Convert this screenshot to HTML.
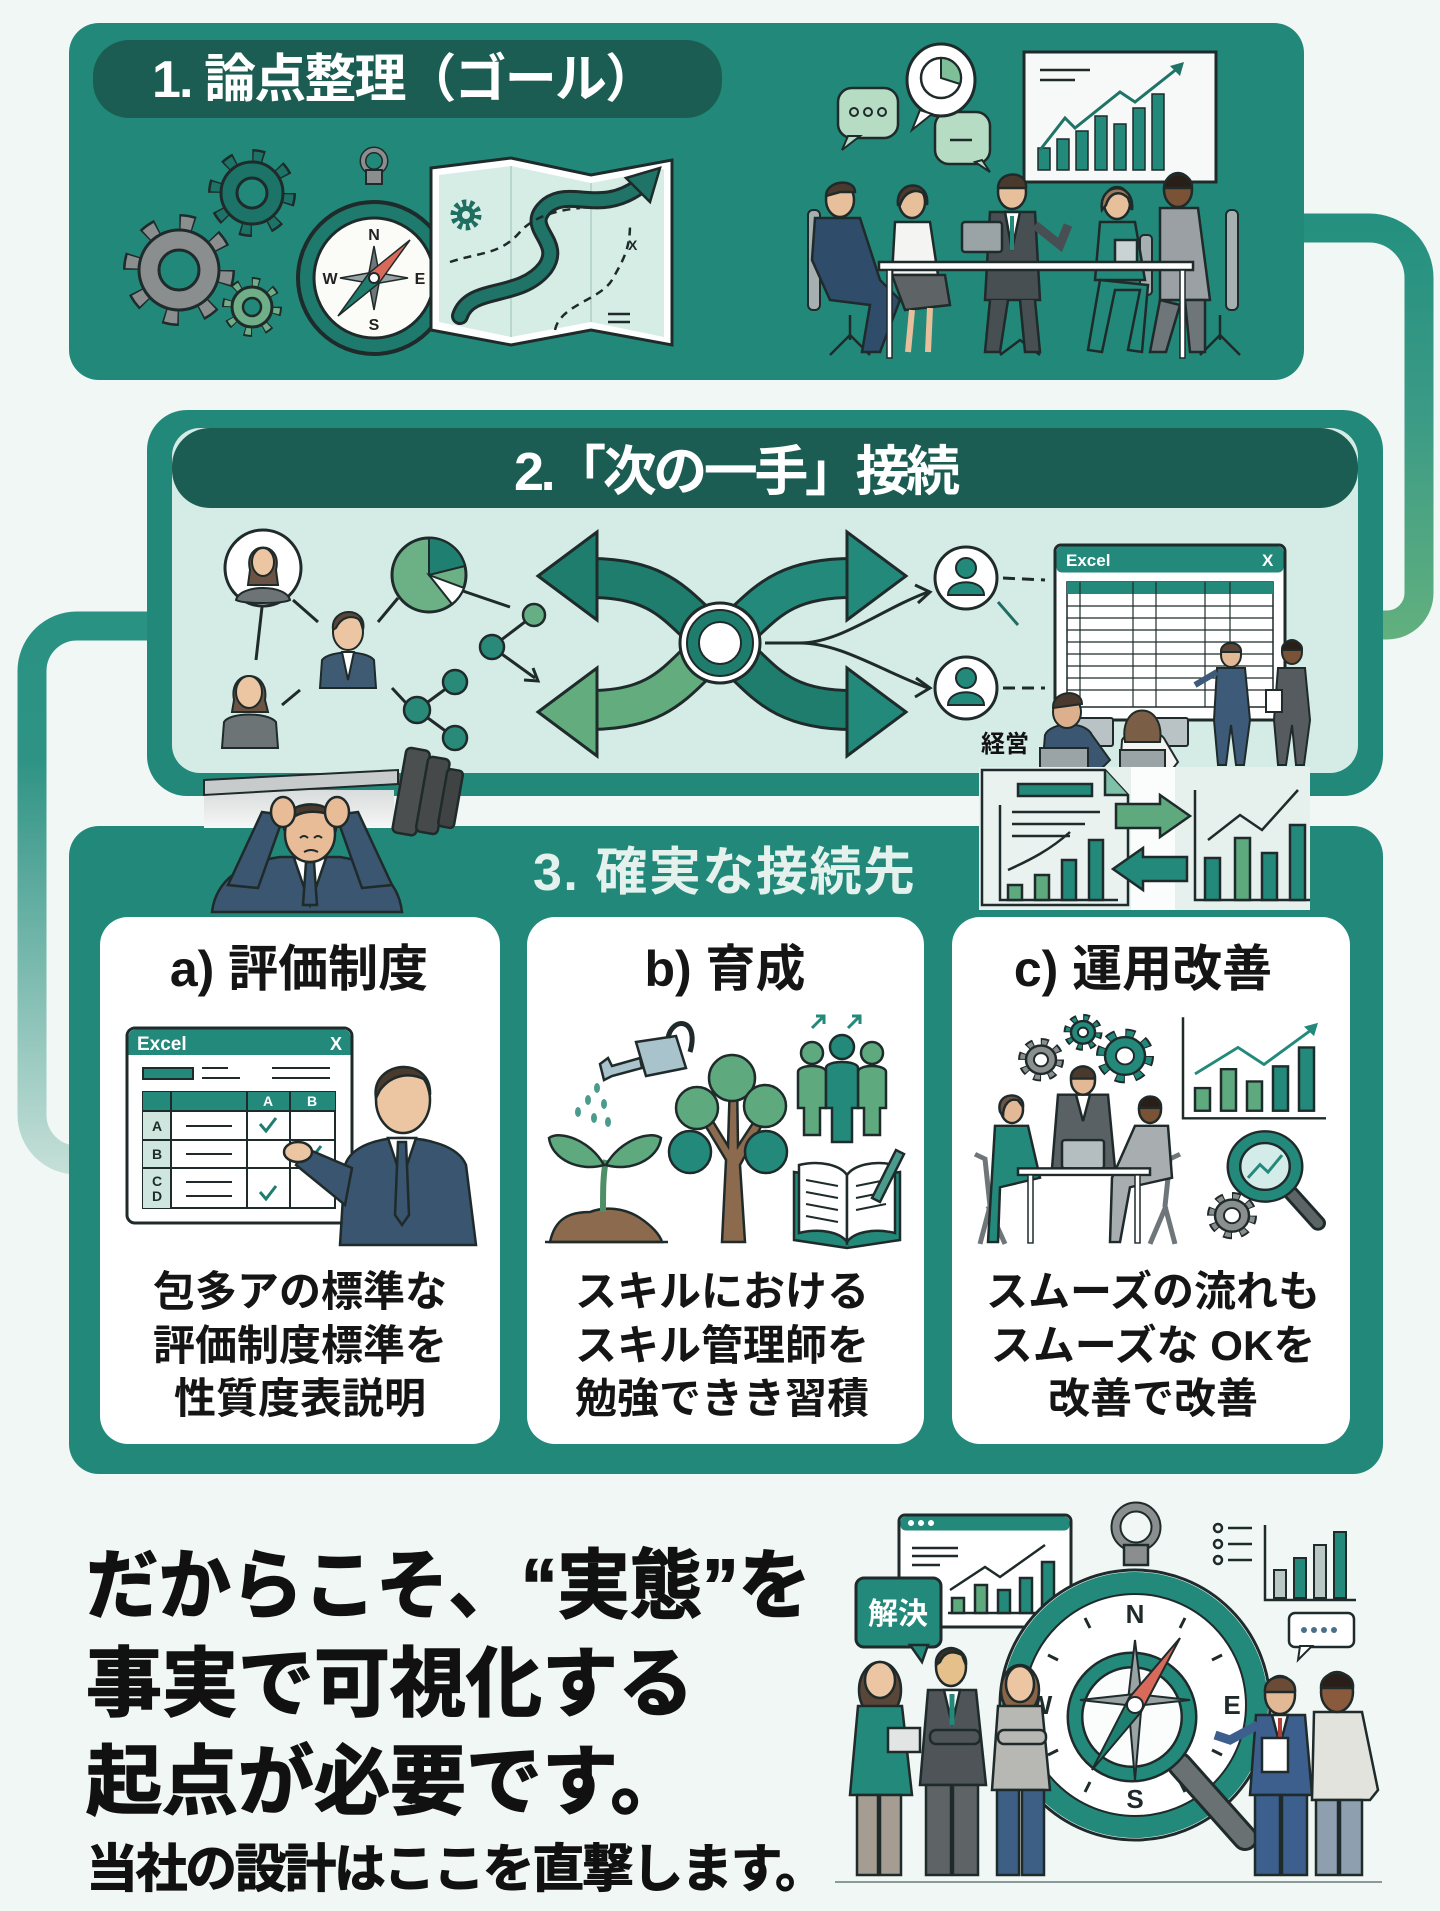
<!DOCTYPE html>
<html><head><meta charset="utf-8">
<style>
html,body{margin:0;padding:0;background:#f0f7f4;}
svg{display:block;}
text{font-family:"Liberation Sans","Noto Sans CJK JP",sans-serif;font-weight:700;}
</style></head><body>
<svg width="1440" height="1911" viewBox="0 0 1440 1911" xmlns="http://www.w3.org/2000/svg">
<defs>
<linearGradient id="gR" gradientUnits="userSpaceOnUse" x1="0" y1="220" x2="0" y2="640">
<stop offset="0" stop-color="#25907f"/><stop offset="0.45" stop-color="#3a9a86"/><stop offset="1" stop-color="#62b07e"/></linearGradient>
<linearGradient id="gL" gradientUnits="userSpaceOnUse" x1="0" y1="620" x2="0" y2="1175">
<stop offset="0" stop-color="#2a9283"/><stop offset="0.25" stop-color="#2e9384"/><stop offset="1" stop-color="#c6e0d9"/></linearGradient>
<linearGradient id="gW" x1="0" y1="0" x2="0" y2="1">
<stop offset="0" stop-color="#d9dcdc"/><stop offset="1" stop-color="#f6f7f7"/></linearGradient>
</defs>
<rect width="1440" height="1911" fill="#f0f7f4"/>

<!-- connectors -->
<path d="M1290,228 H1369 A50,50 0 0 1 1419,278 V593 A32,32 0 0 1 1387,625 H1370" fill="none" stroke="url(#gR)" stroke-width="29"/>
<path d="M160,626 H77 A45,45 0 0 0 32,671 V1115 A45,45 0 0 0 77,1160 H90" fill="none" stroke="url(#gL)" stroke-width="29"/>

<!-- PANEL 1 -->
<rect x="69" y="23" width="1235" height="357" rx="30" fill="#22897a"/>
<rect x="93" y="40" width="629" height="78" rx="36" fill="#1c5d53"/>
<text x="152" y="97" font-size="52" fill="#fff" textLength="505">1. 論点整理（ゴール）</text>

<!-- gears -->
<g transform="translate(179,270)">
<circle r="44" fill="none" stroke="#1f2a2a" stroke-width="24" stroke-dasharray="13.8 20.76"/>
<circle r="44" fill="none" stroke="#8b8e8f" stroke-width="19" stroke-dasharray="11 23.56" stroke-dashoffset="-1.4"/>
<circle r="40" fill="#8b8e8f" stroke="#1f2a2a" stroke-width="3"/>
<circle r="20" fill="#22897a" stroke="#1f2a2a" stroke-width="3"/></g>
<g transform="translate(252,193)">
<circle r="34" fill="none" stroke="#1f2a2a" stroke-width="20" stroke-dasharray="10.7 16"/>
<circle r="34" fill="none" stroke="#1b7467" stroke-width="15" stroke-dasharray="8 18.7" stroke-dashoffset="-1.3"/>
<circle r="31" fill="#1b7467" stroke="#1f2a2a" stroke-width="3"/>
<circle r="15" fill="#22897a" stroke="#1f2a2a" stroke-width="3"/></g>
<g transform="translate(252,307)">
<circle r="23" fill="none" stroke="#1f2a2a" stroke-width="14" stroke-dasharray="7.2 10.8"/>
<circle r="23" fill="none" stroke="#6fae86" stroke-width="10" stroke-dasharray="5.2 12.8" stroke-dashoffset="-1"/>
<circle r="20" fill="#6fae86" stroke="#1f2a2a" stroke-width="3"/>
<circle r="9" fill="#22897a" stroke="#1f2a2a" stroke-width="2.5"/></g>

<!-- compass -->
<circle cx="374" cy="161" r="11" fill="none" stroke="#1f2a2a" stroke-width="7"/>
<circle cx="374" cy="161" r="11" fill="none" stroke="#8b8e8f" stroke-width="4"/>
<rect x="366" y="170" width="16" height="14" fill="#8b8e8f" stroke="#1f2a2a" stroke-width="2"/>
<circle cx="374" cy="278" r="76" fill="#1e7a6d" stroke="#1f2a2a" stroke-width="4"/>
<circle cx="374" cy="278" r="60" fill="#fbfbf8" stroke="#1f2a2a" stroke-width="3"/>
<text x="374" y="240" font-size="16" fill="#222" text-anchor="middle" font-weight="400">N</text>
<text x="374" y="330" font-size="16" fill="#222" text-anchor="middle" font-weight="400">S</text>
<text x="330" y="284" font-size="16" fill="#222" text-anchor="middle" font-weight="400">W</text>
<text x="420" y="284" font-size="16" fill="#222" text-anchor="middle" font-weight="400">E</text>
<polygon points="374,246 380,278 374,310 368,278" fill="#6f7678" stroke="#1f2a2a" stroke-width="1.5"/>
<polygon points="340,278 374,272 408,278 374,284" fill="#9aa3a4" stroke="#1f2a2a" stroke-width="1.5"/>
<polygon points="410,240 379,283 369,273" fill="#d9695a" stroke="#1f2a2a" stroke-width="1.5"/>
<polygon points="338,316 369,273 379,283" fill="#1f7d6e" stroke="#1f2a2a" stroke-width="1.5"/>
<circle cx="374" cy="278" r="5" fill="#fff" stroke="#1f2a2a" stroke-width="2"/>

<!-- map -->
<polygon points="431,168 511,158 591,175 672,160 672,345 591,330 511,345 431,330" fill="#fff" stroke="#1f2a2a" stroke-width="3"/>
<polygon points="439,175 511,166 591,183 664,169 664,337 591,322 511,337 439,322" fill="#d6ede6"/>
<line x1="511" y1="166" x2="511" y2="337" stroke="#b8d6ce" stroke-width="2"/>
<line x1="591" y1="183" x2="591" y2="322" stroke="#b8d6ce" stroke-width="2"/>
<path d="M460,316 C470,285 520,300 545,268 C565,240 520,228 548,205 C572,188 600,215 640,186" fill="none" stroke="#1f2a2a" stroke-width="18" stroke-linecap="round"/>
<path d="M460,316 C470,285 520,300 545,268 C565,240 520,228 548,205 C572,188 600,215 640,186" fill="none" stroke="#1f7467" stroke-width="12" stroke-linecap="round"/>
<polygon points="660,168 626,178 650,202" fill="#1f7467" stroke="#1f2a2a" stroke-width="2.5"/>
<path d="M450,262 C480,252 500,255 520,232 C535,215 560,210 580,208" fill="none" stroke="#1f2a2a" stroke-width="2.5" stroke-dasharray="8 6"/>
<path d="M555,330 C560,305 600,300 612,280 C622,262 630,250 630,225" fill="none" stroke="#1f2a2a" stroke-width="2.5" stroke-dasharray="8 6"/>
<circle cx="466" cy="215" r="12" fill="none" stroke="#1f6e62" stroke-width="7" stroke-dasharray="4 3.5"/>
<circle cx="466" cy="215" r="9" fill="#1f6e62"/><circle cx="466" cy="215" r="4" fill="#d6ede6"/>
<line x1="608" y1="314" x2="630" y2="314" stroke="#1f2a2a" stroke-width="2.5"/>
<line x1="608" y1="322" x2="630" y2="322" stroke="#1f2a2a" stroke-width="2.5"/>
<text x="628" y="250" font-size="14" fill="#1f2a2a">X</text>

<!-- meeting scene panel 1 -->
<rect x="1024" y="52" width="192" height="130" fill="#f6f9f8" stroke="#1f2a2a" stroke-width="3"/>
<line x1="1040" y1="70" x2="1090" y2="70" stroke="#1f2a2a" stroke-width="2.5"/>
<line x1="1040" y1="80" x2="1075" y2="80" stroke="#1f2a2a" stroke-width="2.5"/>
<g fill="#23897b" stroke="#1f2a2a" stroke-width="1.5">
<rect x="1038" y="148" width="12" height="22"/><rect x="1057" y="139" width="12" height="31"/><rect x="1076" y="131" width="12" height="39"/><rect x="1095" y="116" width="12" height="54"/><rect x="1114" y="124" width="12" height="46"/><rect x="1133" y="108" width="12" height="62"/><rect x="1152" y="94" width="12" height="76"/></g>
<polyline points="1040,150 1065,118 1075,128 1120,92 1135,102 1178,68" fill="none" stroke="#1f7467" stroke-width="3"/>
<polygon points="1184,62 1170,66 1180,76" fill="#1f7467"/>
<rect x="838" y="88" width="60" height="50" rx="14" fill="#b7dcc4" stroke="#1f2a2a" stroke-width="2.5"/>
<polygon points="848,136 842,150 860,136" fill="#b7dcc4" stroke="#1f2a2a" stroke-width="2"/>
<circle cx="854" cy="112" r="4" fill="none" stroke="#1f2a2a" stroke-width="2"/><circle cx="868" cy="112" r="4" fill="none" stroke="#1f2a2a" stroke-width="2"/><circle cx="882" cy="112" r="4" fill="none" stroke="#1f2a2a" stroke-width="2"/>
<rect x="935" y="112" width="55" height="52" rx="14" fill="#b7dcc4" stroke="#1f2a2a" stroke-width="2.5"/>
<polygon points="975,162 990,172 982,160" fill="#b7dcc4" stroke="#1f2a2a" stroke-width="2"/>
<line x1="950" y1="140" x2="972" y2="140" stroke="#1f2a2a" stroke-width="2.5"/>
<ellipse cx="941" cy="80" rx="34" ry="36" fill="#fff" stroke="#1f2a2a" stroke-width="3"/>
<polygon points="920,110 912,130 932,114" fill="#fff" stroke="#1f2a2a" stroke-width="2"/>
<circle cx="941" cy="78" r="20" fill="#fff" stroke="#1f2a2a" stroke-width="2.5"/>
<path d="M941,78 L941,58 A20,20 0 0 1 960,84 Z" fill="#7fbf98" stroke="#1f2a2a" stroke-width="2"/>
<!-- chairs -->
<g fill="#a6b0b0" stroke="#1f2a2a" stroke-width="2">
<rect x="808" y="210" width="12" height="100" rx="5"/><rect x="1226" y="210" width="12" height="100" rx="5"/>
<rect x="905" y="235" width="12" height="60" rx="4"/><rect x="1140" y="235" width="12" height="60" rx="4"/></g>
<g stroke="#1f2a2a" stroke-width="2.5" fill="none">
<path d="M830,355 L850,335 L870,355 M850,315 V340"/><path d="M1200,355 L1220,335 L1240,355 M1220,315 V340"/>
<path d="M1000,355 L1020,340 L1040,355"/></g>
<!-- persons -->
<g stroke="#1f2a2a" stroke-width="2.5">
<path d="M815,218 L860,218 L880,280 L900,300 L880,352 L862,352 L870,305 L830,300 L812,260 Z" fill="#2f4d6b"/>
<ellipse cx="840" cy="200" rx="14" ry="17" fill="#e8bf9b"/>
<path d="M826,196 C826,180 855,178 855,192 L840,192 Z" fill="#4a3a2e"/>
<path d="M895,222 L930,222 L938,275 L892,275 Z" fill="#f4f4f2"/>
<path d="M892,275 L945,275 L950,305 L905,310 Z" fill="#5e6466"/>
<path d="M912,310 L908,352 M930,308 L928,352" stroke="#e8bf9b" stroke-width="6" fill="none"/>
<ellipse cx="912" cy="202" rx="13" ry="16" fill="#e8bf9b"/>
<path d="M898,205 C895,180 930,178 927,205 L925,195 C918,188 905,190 900,205 Z" fill="#4a3a2e"/>
<path d="M990,212 L1035,212 L1040,300 L985,300 Z" fill="#474f53"/>
<path d="M990,300 L985,352 L1000,352 L1008,300 M1020,300 L1025,352 L1040,352 L1035,300" fill="#474f53"/>
<polygon points="1005,212 1020,212 1012,250" fill="#fff"/>
<line x1="1012" y1="216" x2="1012" y2="250" stroke="#23897b" stroke-width="4"/>
<path d="M1035,225 L1060,245 L1068,225" fill="none" stroke="#474f53" stroke-width="9"/>
<ellipse cx="1012" cy="192" rx="14" ry="17" fill="#e8bf9b"/>
<path d="M998,188 C998,170 1028,170 1026,188 Z" fill="#4a3a2e"/>
<path d="M1100,222 L1135,222 L1145,280 L1095,280 Z" fill="#23897b"/>
<path d="M1100,280 L1088,350 L1102,352 L1115,290 L1140,290 L1128,350 L1142,352 L1148,285 Z" fill="#23897b"/>
<ellipse cx="1117" cy="203" rx="13" ry="16" fill="#e8bf9b"/>
<path d="M1102,210 C1098,182 1135,180 1132,210 L1128,198 C1120,190 1110,192 1106,205 Z" fill="#9b7a5a"/>
<path d="M1160,208 L1198,208 L1210,300 L1160,300 Z" fill="#9aa0a3"/>
<path d="M1160,300 L1150,352 L1166,352 L1180,305 Z M1185,300 L1190,352 L1205,352 L1205,300 Z" fill="#6f7679"/>
<ellipse cx="1178" cy="190" rx="14" ry="17" fill="#7a5236"/>
<path d="M1164,188 C1164,170 1193,170 1192,188 Z" fill="#2a1f18"/>
<rect x="962" y="222" width="40" height="30" rx="3" fill="#9aa3a6"/>
<rect x="1115" y="240" width="22" height="24" fill="#c9d3d3"/>
<rect x="879" y="262" width="314" height="8" fill="#fff"/>
<rect x="887" y="270" width="5" height="88" fill="#fff" stroke-width="1.5"/>
<rect x="1180" y="270" width="5" height="88" fill="#fff" stroke-width="1.5"/>
</g>

<!-- PANEL 2 -->
<rect x="147" y="410" width="1236" height="386" rx="40" fill="#22897a"/>
<rect x="172" y="428" width="1186" height="345" rx="28" fill="#d5ece6"/>
<rect x="172" y="428" width="1186" height="80" rx="38" fill="#1c5d53"/>
<text x="514" y="490" font-size="54" fill="#fff" textLength="446">2.「次の一手」接続</text>

<!-- network -->
<g stroke="#1f2a2a" stroke-width="3" fill="none">
<line x1="262" y1="607" x2="256" y2="660"/><line x1="293" y1="600" x2="318" y2="622"/>
<line x1="378" y1="622" x2="398" y2="598"/><line x1="460" y1="590" x2="510" y2="607"/>
<line x1="282" y1="705" x2="300" y2="690"/><line x1="392" y1="688" x2="406" y2="703"/>
<line x1="534" y1="615" x2="492" y2="647"/><line x1="492" y1="647" x2="535" y2="678"/>
<polyline points="524,680 538,681 533,668"/>
<line x1="455" y1="682" x2="417" y2="710"/><line x1="417" y1="710" x2="455" y2="738"/>
</g>
<circle cx="534" cy="615" r="11" fill="#66ae83" stroke="#1f2a2a" stroke-width="2.5"/>
<circle cx="492" cy="647" r="12" fill="#2a8a79" stroke="#1f2a2a" stroke-width="2.5"/>
<circle cx="455" cy="682" r="12" fill="#2a8a79" stroke="#1f2a2a" stroke-width="2.5"/>
<circle cx="417" cy="710" r="13" fill="#2a8a79" stroke="#1f2a2a" stroke-width="2.5"/>
<circle cx="455" cy="738" r="12" fill="#2a8a79" stroke="#1f2a2a" stroke-width="2.5"/>
<circle cx="263" cy="568" r="38" fill="#fff" stroke="#1f2a2a" stroke-width="3"/>
<g stroke="#1f2a2a" stroke-width="2">
<path d="M250,570 C243,540 283,540 276,570 L278,585 L248,585 Z" fill="#6b5444"/>
<ellipse cx="263" cy="562" rx="11" ry="14" fill="#ecc5a2"/>
<path d="M236,600 C240,584 286,584 290,600 C282,604 244,604 236,600 Z" fill="#6c7476"/>
<path d="M320,688 L322,660 C330,650 366,650 374,660 L376,688 Z" fill="#3f5b73"/>
<polygon points="342,652 354,652 348,680" fill="#fff"/>
<ellipse cx="348" cy="632" rx="15" ry="18" fill="#ecc5a2"/>
<path d="M333,630 C330,606 368,606 363,630 L360,620 C352,615 342,616 336,628 Z" fill="#5a4638"/>
<path d="M234,700 C228,668 270,668 265,700 L268,712 L232,712 Z" fill="#6b5444"/>
<ellipse cx="249" cy="692" rx="13" ry="16" fill="#ecc5a2"/>
<path d="M222,748 L224,722 C230,712 268,712 276,722 L278,748 Z" fill="#6c7476"/>
</g>
<circle cx="429" cy="575" r="37" fill="#6bb185" stroke="#1f2a2a" stroke-width="3"/>
<path d="M429,575 L429,538 A37,37 0 0 1 465,566 Z" fill="#1f8071" stroke="#1f2a2a" stroke-width="2"/>
<path d="M429,575 L464,588 A37,37 0 0 1 452,604 Z" fill="#fff" stroke="#1f2a2a" stroke-width="2"/>

<!-- crossing arrows -->
<g fill="none" stroke-linecap="butt">
<path d="M590,578 C670,578 680,615 720,643 C760,671 770,710 852,710" stroke="#1f2a2a" stroke-width="42"/>
<path d="M590,578 C670,578 680,615 720,643 C760,671 770,710 852,710" stroke="#1f7d6e" stroke-width="36"/>
<path d="M590,710 C670,710 680,671 720,643 C760,615 770,578 852,578" stroke="#1f2a2a" stroke-width="42"/>
<path d="M590,710 C670,710 680,671 720,643" stroke="#62ac7e" stroke-width="36"/>
<path d="M720,643 C760,615 770,578 852,578" stroke="#23897b" stroke-width="36"/>
</g>
<g stroke="#1f2a2a" stroke-width="3">
<polygon points="538,576 597,532 597,620" fill="#1f7d6e"/>
<polygon points="538,712 597,668 597,756" fill="#62ac7e"/>
<polygon points="906,576 847,532 847,620" fill="#23897b"/>
<polygon points="906,712 847,668 847,756" fill="#23897b"/>
</g>
<circle cx="720" cy="643" r="40" fill="#fff" stroke="#1f2a2a" stroke-width="3"/>
<circle cx="720" cy="643" r="27" fill="none" stroke="#1f7d6e" stroke-width="12"/>
<circle cx="720" cy="643" r="33" fill="none" stroke="#1f2a2a" stroke-width="2"/>
<circle cx="720" cy="643" r="21" fill="none" stroke="#1f2a2a" stroke-width="2"/>
<g stroke="#1f2a2a" stroke-width="3" fill="none">
<path d="M765,643 H800 C840,643 880,610 928,592"/><path d="M800,643 C840,643 880,670 928,688"/>
<polyline points="915,585 930,592 918,603"/><polyline points="915,697 930,688 916,678"/>
<line x1="1003" y1="578" x2="1045" y2="580" stroke-dasharray="12 7"/>
<line x1="1003" y1="688" x2="1045" y2="688" stroke-dasharray="12 7"/>
<line x1="998" y1="602" x2="1018" y2="625" stroke="#1f6e62"/>
</g>
<g stroke="#1f2a2a" stroke-width="3">
<circle cx="966" cy="578" r="31" fill="#fff"/><circle cx="966" cy="688" r="31" fill="#fff"/></g>
<g fill="#23897b" stroke="#1f2a2a" stroke-width="2">
<circle cx="966" cy="568" r="10"/><path d="M948,595 C948,578 984,578 984,595 Z"/>
<circle cx="966" cy="678" r="10"/><path d="M948,705 C948,688 984,688 984,705 Z"/></g>

<!-- excel panel 2 -->
<rect x="1055" y="545" width="230" height="175" rx="6" fill="#fff" stroke="#1f2a2a" stroke-width="3"/>
<rect x="1056.5" y="546.5" width="227" height="26" rx="5" fill="#23897b"/>
<text x="1066" y="566" font-size="17" fill="#fff">Excel</text>
<text x="1262" y="566" font-size="17" fill="#fff" font-weight="400">X</text>
<rect x="1067" y="582" width="206" height="125" fill="#fff" stroke="#1f2a2a" stroke-width="1.5"/>
<rect x="1067" y="582" width="206" height="12" fill="#23897b"/>
<g stroke="#1f2a2a" stroke-width="1.2">
<line x1="1067" y1="606" x2="1273" y2="606"/><line x1="1067" y1="618" x2="1273" y2="618"/><line x1="1067" y1="630" x2="1273" y2="630"/><line x1="1067" y1="642" x2="1273" y2="642"/><line x1="1067" y1="654" x2="1273" y2="654"/><line x1="1067" y1="666" x2="1273" y2="666"/><line x1="1067" y1="678" x2="1273" y2="678"/><line x1="1067" y1="690" x2="1273" y2="690"/>
<line x1="1080" y1="582" x2="1080" y2="707"/><line x1="1133" y1="582" x2="1133" y2="707"/><line x1="1156" y1="582" x2="1156" y2="707"/><line x1="1205" y1="582" x2="1205" y2="707"/><line x1="1230" y1="582" x2="1230" y2="707"/></g>
<!-- people around excel -->
<g stroke="#1f2a2a" stroke-width="2">
<rect x="1075" y="718" width="38" height="28" rx="2" fill="#b9c2c4"/>
<rect x="1150" y="718" width="38" height="28" rx="2" fill="#b9c2c4"/>
<path d="M1042,772 L1045,735 C1050,722 1085,720 1092,735 L1110,760 L1098,772 Z" fill="#3b5670"/>
<ellipse cx="1067" cy="712" rx="14" ry="16" fill="#dcb08c"/>
<path d="M1053,708 C1052,690 1082,688 1082,704 Z" fill="#4a3a2e"/>
<rect x="1040" y="748" width="48" height="25" fill="#9aa3a6"/>
<path d="M1120,772 L1122,740 C1128,728 1160,728 1165,740 L1178,762 L1170,772 Z" fill="#f4f4f2"/>
<path d="M1125,742 C1118,700 1166,700 1160,742 Z" fill="#7a5e45"/>
<rect x="1120" y="750" width="45" height="23" fill="#9aa3a6"/>
<path d="M1217,668 L1245,668 L1250,720 L1244,765 L1236,765 L1231,725 L1226,765 L1218,765 L1214,720 Z" fill="#3d5a78"/>
<path d="M1217,672 L1195,685" stroke="#3d5a78" stroke-width="6"/>
<ellipse cx="1231" cy="655" rx="10" ry="12" fill="#e3b894"/>
<path d="M1221,652 C1220,640 1242,640 1241,652 Z" fill="#5a4638"/>
<path d="M1278,668 L1305,668 L1310,720 L1304,765 L1296,765 L1292,725 L1286,765 L1278,765 L1274,720 Z" fill="#555b5e"/>
<ellipse cx="1292" cy="652" rx="10" ry="12" fill="#7a5236"/>
<path d="M1282,650 C1281,638 1303,638 1302,650 Z" fill="#2a1f18"/>
<rect x="1266" y="690" width="16" height="22" fill="#fff"/>
</g>
<text x="981" y="752" font-size="24" fill="#111">経営</text>

<!-- PANEL 3 -->
<rect x="69" y="826" width="1314" height="648" rx="30" fill="#22897a"/>
<text x="533" y="890" font-size="52" fill="#e4f1ed" textLength="382">3. 確実な接続先</text>
<rect x="100" y="917" width="400" height="527" rx="28" fill="#fff"/>
<rect x="527" y="917" width="397" height="527" rx="28" fill="#fff"/>
<rect x="952" y="917" width="398" height="527" rx="28" fill="#fff"/>
<g font-size="50" fill="#151515" text-anchor="middle">
<text x="299" y="986">a) 評価制度</text>
<text x="725" y="986">b) 育成</text>
<text x="1143" y="986">c) 運用改善</text>
</g>
<g font-size="42" fill="#151515" text-anchor="middle">
<text x="300" y="1306">包多アの標準な</text>
<text x="300" y="1360">評価制度標準を</text>
<text x="300" y="1413">性質度表説明</text>
<text x="722" y="1306">スキルにおける</text>
<text x="722" y="1360">スキル管理師を</text>
<text x="722" y="1413">勉強できき習積</text>
<text x="1153" y="1306">スムーズの流れも</text>
<text x="1153" y="1360">スムーズな OKを</text>
<text x="1153" y="1413">改善で改善</text>
</g>

<!-- card a illustration -->
<rect x="127" y="1028" width="225" height="195" rx="8" fill="#fff" stroke="#1f2a2a" stroke-width="3"/>
<path d="M128.5,1055 V1036 A7,7 0 0 1 135.5,1029.5 H343.5 A7,7 0 0 1 350.5,1036 V1055 Z" fill="#23897b"/>
<text x="137" y="1050" font-size="19" fill="#fff">Excel</text>
<text x="330" y="1050" font-size="18" fill="#fff" font-weight="400">X</text>
<rect x="143" y="1068" width="50" height="11" fill="#23897b" stroke="#1f2a2a" stroke-width="2"/>
<g stroke="#1f2a2a" stroke-width="2"><line x1="202" y1="1068" x2="228" y2="1068"/><line x1="202" y1="1078" x2="240" y2="1078"/><line x1="272" y1="1068" x2="330" y2="1068"/><line x1="272" y1="1078" x2="330" y2="1078"/></g>
<rect x="143" y="1092" width="192" height="116" fill="#fff" stroke="#1f2a2a" stroke-width="2"/>
<rect x="143" y="1092" width="192" height="19" fill="#23897b"/>
<rect x="143" y="1111" width="28" height="97" fill="#cfe6df"/>
<g stroke="#1f2a2a" stroke-width="2">
<line x1="143" y1="1111" x2="335" y2="1111"/><line x1="143" y1="1140" x2="335" y2="1140"/><line x1="143" y1="1168" x2="335" y2="1168"/>
<line x1="171" y1="1092" x2="171" y2="1208"/><line x1="247" y1="1092" x2="247" y2="1208"/><line x1="290" y1="1092" x2="290" y2="1208"/>
<line x1="186" y1="1126" x2="232" y2="1126"/><line x1="186" y1="1154" x2="232" y2="1154"/><line x1="186" y1="1182" x2="232" y2="1182"/><line x1="186" y1="1196" x2="232" y2="1196"/></g>
<g font-size="14" fill="#1f2a2a" font-weight="400" text-anchor="middle">
<text x="157" y="1131">A</text><text x="157" y="1159">B</text><text x="157" y="1186">C</text><text x="157" y="1201">D</text>
<text x="268" y="1106" fill="#fff">A</text><text x="312" y="1106" fill="#fff">B</text></g>
<g fill="none" stroke="#1f7d6e" stroke-width="3"><polyline points="260,1124 266,1131 276,1118"/><polyline points="305,1152 311,1159 321,1146"/><polyline points="260,1192 266,1199 276,1186"/></g>
<g stroke="#1f2a2a" stroke-width="2.5">
<path d="M340,1245 L345,1165 C352,1145 380,1138 402,1138 C425,1138 458,1145 466,1165 L476,1245 Z" fill="#3a5570"/>
<polygon points="388,1138 416,1138 402,1180" fill="#fff"/>
<polygon points="398,1142 406,1142 409,1215 402,1225 395,1215" fill="#3a5570"/>
<path d="M352,1168 L305,1148 L296,1165 L345,1205 Z" fill="#3a5570"/>
<ellipse cx="298" cy="1152" rx="14" ry="10" fill="#ecc5a2"/>
<ellipse cx="403" cy="1100" rx="27" ry="33" fill="#ecc5a2"/>
<path d="M376,1098 C370,1060 432,1055 430,1095 L426,1080 C410,1072 392,1074 380,1090 Z" fill="#4a3a2e"/>
</g>

<!-- card b illustration -->
<g stroke="#1f2a2a" stroke-width="2.5">
<path d="M636,1042 L676,1036 L686,1068 L646,1076 Z" fill="#a9c3cc"/>
<path d="M668,1038 C672,1016 700,1018 690,1052" fill="none" stroke="#1f2a2a" stroke-width="5"/>
<path d="M640,1058 L612,1066 L608,1058 L600,1064 L604,1080 L612,1076 L642,1068 Z" fill="#a9c3cc"/>
</g>
<g fill="#4a9b8c"><ellipse cx="597" cy="1088" rx="3" ry="5"/><ellipse cx="588" cy="1100" rx="3" ry="5"/><ellipse cx="604" cy="1104" rx="3" ry="5"/><ellipse cx="594" cy="1118" rx="3" ry="5"/><ellipse cx="608" cy="1122" rx="3" ry="5"/><ellipse cx="578" cy="1112" rx="3" ry="5"/></g>
<g stroke="#1f2a2a" stroke-width="2.5">
<path d="M550,1242 C555,1218 570,1212 590,1212 C605,1206 625,1208 640,1218 C652,1226 660,1235 662,1242 Z" fill="#8b6a4e"/>
<path d="M603,1212 C603,1190 603,1175 606,1160" fill="none" stroke="#4f8f68" stroke-width="6"/>
<path d="M604,1165 C590,1140 560,1130 549,1138 C552,1160 580,1172 604,1165 Z" fill="#5fa97f"/>
<path d="M606,1165 C620,1140 650,1130 661,1138 C658,1160 630,1172 606,1165 Z" fill="#5fa97f"/>
<path d="M722,1242 L726,1160 L705,1125 L712,1120 L728,1146 L730,1080 L737,1080 L738,1146 L755,1120 L762,1125 L740,1165 L745,1242 Z" fill="#8b6a4e"/>
<circle cx="732" cy="1078" r="23" fill="#5fa97f"/><circle cx="697" cy="1108" r="21" fill="#5fa97f"/><circle cx="765" cy="1106" r="21" fill="#5fa97f"/>
<circle cx="690" cy="1152" r="21" fill="#23897b"/><circle cx="766" cy="1152" r="21" fill="#23897b"/>
<line x1="545" y1="1242" x2="668" y2="1242"/>
</g>
<g stroke="#1f2a2a" stroke-width="2.5">
<circle cx="812" cy="1053" r="11" fill="#5fa97f"/><path d="M798,1072 C798,1064 826,1064 826,1072 L826,1108 L820,1108 L820,1135 L804,1135 L804,1108 L798,1108 Z" fill="#5fa97f"/>
<circle cx="872" cy="1053" r="11" fill="#5fa97f"/><path d="M858,1072 C858,1064 886,1064 886,1072 L886,1108 L880,1108 L880,1135 L864,1135 L864,1108 L858,1108 Z" fill="#5fa97f"/>
<circle cx="842" cy="1047" r="12" fill="#23897b"/><path d="M826,1068 C826,1060 858,1060 858,1068 L858,1108 L852,1108 L852,1142 L832,1142 L832,1108 L826,1108 Z" fill="#23897b"/>
</g>
<g stroke="#23897b" stroke-width="3" fill="none"><path d="M812,1028 L824,1016 M816,1016 H824 V1024"/><path d="M848,1028 L860,1016 M852,1016 H860 V1024"/></g>
<g stroke="#1f2a2a" stroke-width="2.5">
<path d="M794,1240 L794,1172 L847,1180 L900,1172 L900,1240 L847,1248 Z" fill="#23897b"/>
<path d="M799,1233 L799,1165 C820,1160 840,1165 847,1175 L847,1242 C840,1232 820,1228 799,1233 Z" fill="#fff"/>
<path d="M895,1233 L895,1165 C874,1160 854,1165 847,1175 L847,1242 C854,1232 874,1228 895,1233 Z" fill="#fff"/>
<path d="M806,1180 L838,1186 M806,1192 L838,1198 M806,1204 L838,1210 M806,1216 L838,1222 M856,1186 L886,1180 M856,1198 L886,1192 M856,1210 L886,1204" fill="none" stroke-width="2"/>
<path d="M872,1198 L896,1150 L904,1154 L880,1202 Z" fill="#4a9b8c"/>
</g>

<!-- card c illustration -->
<g transform="matrix(1 0 0 0.9445 0 44.4)">
<g transform="translate(1041,1075)"><circle r="17" fill="none" stroke="#1f2a2a" stroke-width="12" stroke-dasharray="6.7 6.6"/><circle r="17" fill="none" stroke="#8b8e8f" stroke-width="8" stroke-dasharray="4.7 8.6" stroke-dashoffset="-1"/><circle r="15" fill="#8b8e8f" stroke="#1f2a2a" stroke-width="2.5"/><circle r="7" fill="#fff" stroke="#1f2a2a" stroke-width="2"/></g>
<g transform="translate(1083,1046)"><circle r="14" fill="none" stroke="#1f2a2a" stroke-width="11" stroke-dasharray="5.5 5.5"/><circle r="14" fill="none" stroke="#23897b" stroke-width="7" stroke-dasharray="3.5 7.5" stroke-dashoffset="-1"/><circle r="12" fill="#23897b" stroke="#1f2a2a" stroke-width="2.5"/><circle r="5" fill="#fff" stroke="#1f2a2a" stroke-width="2"/></g>
<g transform="translate(1125,1071)"><circle r="22" fill="none" stroke="#1f2a2a" stroke-width="14" stroke-dasharray="8.6 8.7"/><circle r="22" fill="none" stroke="#23897b" stroke-width="10" stroke-dasharray="6.6 10.7" stroke-dashoffset="-1"/><circle r="20" fill="#23897b" stroke="#1f2a2a" stroke-width="2.5"/><circle r="9" fill="#fff" stroke="#1f2a2a" stroke-width="2"/></g>
<g stroke="#1f2a2a" stroke-width="2.5">
<polyline points="1183,1030 1183,1137 1326,1137" fill="none"/>
<rect x="1195" y="1105" width="15" height="24" fill="#5fa97f"/><rect x="1221" y="1085" width="15" height="44" fill="#5fa97f"/><rect x="1247" y="1098" width="15" height="31" fill="#5fa97f"/><rect x="1273" y="1082" width="15" height="47" fill="#23897b"/><rect x="1299" y="1062" width="15" height="67" fill="#23897b"/>
</g>
<polyline points="1195,1090 1238,1062 1264,1080 1313,1042" fill="none" stroke="#23897b" stroke-width="3"/>
<polygon points="1318,1036 1304,1040 1314,1050" fill="#23897b"/>
<g stroke="#1f2a2a" stroke-width="2.5">
<path d="M975,1175 L985,1180 L990,1230 L980,1270 M988,1230 L1005,1270" fill="none" stroke="#6f7679" stroke-width="5"/>
<path d="M1180,1175 L1170,1180 L1165,1230 L1175,1270 M1166,1230 L1150,1270" fill="none" stroke="#6f7679" stroke-width="5"/>
<path d="M1058,1112 L1108,1112 L1115,1190 L1052,1190 Z" fill="#5a6164"/>
<polygon points="1076,1112 1090,1112 1083,1140" fill="#fff"/>
<ellipse cx="1083" cy="1097" rx="12" ry="15" fill="#e3b894"/>
<path d="M1071,1095 C1070,1078 1096,1078 1095,1095 Z" fill="#4a3a2e"/>
<rect x="1062" y="1160" width="42" height="30" rx="3" fill="#b4bdbf"/>
<path d="M995,1145 L1028,1145 L1040,1200 L1000,1210 L998,1268 L988,1268 Z" fill="#23897b"/>
<ellipse cx="1012" cy="1128" rx="11" ry="14" fill="#e3b894"/>
<path d="M1000,1130 C995,1108 1025,1108 1023,1125 L1018,1118 C1010,1115 1003,1122 1003,1135 Z" fill="#6b5444"/>
<path d="M1135,1145 L1168,1145 L1172,1200 L1130,1210 L1120,1268 L1110,1268 L1112,1200 Z" fill="#a8aeb0"/>
<ellipse cx="1150" cy="1128" rx="11" ry="14" fill="#7a5236"/>
<path d="M1139,1126 C1139,1110 1162,1110 1161,1126 Z" fill="#2a1f18"/>
<rect x="1018" y="1190" width="132" height="7" fill="#fff"/>
<rect x="1028" y="1197" width="5" height="72" fill="#fff" stroke-width="1.5"/>
<rect x="1135" y="1197" width="5" height="72" fill="#fff" stroke-width="1.5"/>
</g>
<g transform="translate(1232,1240)"><circle r="19" fill="none" stroke="#1f2a2a" stroke-width="12" stroke-dasharray="7.5 7.4"/><circle r="19" fill="none" stroke="#8b8e8f" stroke-width="8" stroke-dasharray="5.5 9.4" stroke-dashoffset="-1"/><circle r="17" fill="#8b8e8f" stroke="#1f2a2a" stroke-width="2.5"/><circle r="8" fill="#fff" stroke="#1f2a2a" stroke-width="2"/></g>
<line x1="1290" y1="1215" x2="1318" y2="1248" stroke="#1f2a2a" stroke-width="16" stroke-linecap="round"/>
<line x1="1290" y1="1215" x2="1318" y2="1248" stroke="#5d6466" stroke-width="10" stroke-linecap="round"/>
<circle cx="1265" cy="1188" r="31" fill="#d3ecea" stroke="#1f2a2a" stroke-width="15"/>
<circle cx="1265" cy="1188" r="31" fill="none" stroke="#23897b" stroke-width="10"/>
<polyline points="1248,1200 1260,1186 1268,1194 1282,1176" fill="none" stroke="#23897b" stroke-width="3"/>
</g>

<!-- overlays: stressed man & weights -->
<rect x="204" y="790" width="190" height="38" fill="url(#gW)"/>
<polygon points="204,780 398,770 398,784 204,795" fill="#c7cbcc" stroke="#1f2a2a" stroke-width="2"/>
<g transform="rotate(10 430 800)" stroke="#1f2a2a" stroke-width="2.5">
<rect x="398" y="752" width="24" height="86" rx="5" fill="#4b4f50"/>
<rect x="421" y="757" width="22" height="76" rx="5" fill="#45494a"/>
<rect x="442" y="766" width="16" height="58" rx="4" fill="#3f4344"/></g>
<g stroke="#1f2a2a" stroke-width="2.5">
<path d="M212,912 C216,878 245,862 280,857 L340,857 C372,862 398,878 402,912 Z" fill="#3b5670"/>
<polygon points="294,858 326,858 310,905" fill="#fff"/>
<polygon points="306,862 314,862 317,905 303,905" fill="#3b5670"/>
<polygon points="228,885 262,812 284,815 258,888" fill="#3b5670"/>
<polygon points="392,885 358,812 336,815 362,888" fill="#3b5670"/>
<ellipse cx="310" cy="834" rx="25" ry="28" fill="#e9bc98"/>
<path d="M284,828 C280,798 340,795 336,828 L330,815 C318,810 300,810 290,820 Z" fill="#4a3a2e"/>
<ellipse cx="283" cy="812" rx="12" ry="15" fill="#e9bc98"/>
<ellipse cx="337" cy="812" rx="12" ry="15" fill="#e9bc98"/>
</g>
<path d="M300,838 Q304,834 308,838 M314,838 Q318,834 322,838 M304,852 Q311,848 318,852" fill="none" stroke="#1f2a2a" stroke-width="2"/>

<!-- doc charts overlay -->
<rect x="979" y="767" width="331" height="143" fill="#e6f0ed"/>
<rect x="1131" y="767" width="44" height="143" fill="#fbfcfc"/>
<g stroke="#1f2a2a" stroke-width="2.5">
<path d="M982,770 L1105,770 L1128,795 L1128,905 L982,905 Z" fill="#e9f2ef"/>
<path d="M1105,770 L1105,795 L1128,795" fill="#7fc0a8"/>
<rect x="1018" y="784" width="74" height="12" fill="#23897b"/>
<line x1="1012" y1="812" x2="1100" y2="812"/><line x1="1012" y1="824" x2="1085" y2="824"/><line x1="1012" y1="836" x2="1070" y2="836"/>
<polyline points="1000,805 1000,900 1118,900" fill="none"/>
<rect x="1008" y="885" width="14" height="15" fill="#5fa97f"/><rect x="1035" y="875" width="14" height="25" fill="#5fa97f"/><rect x="1062" y="860" width="14" height="40" fill="#23897b"/><rect x="1089" y="840" width="14" height="60" fill="#23897b"/>
<path d="M1008,870 C1030,860 1050,850 1070,832" fill="none"/>
<polygon points="1116,804 1160,804 1160,795 1190,816 1160,837 1160,828 1116,828" fill="#5fa97f"/>
<polygon points="1187,857 1143,857 1143,848 1113,869 1143,890 1143,881 1187,881" fill="#23897b"/>
<polyline points="1195,790 1195,900 1310,900" fill="none"/>
<rect x="1205" y="858" width="15" height="42" fill="#23897b"/><rect x="1235" y="838" width="15" height="62" fill="#5fa97f"/><rect x="1262" y="853" width="15" height="47" fill="#23897b"/><rect x="1290" y="825" width="15" height="75" fill="#23897b"/>
<polyline points="1208,840 1240,815 1262,830 1298,790" fill="none"/>
</g>

<!-- bottom text -->
<g fill="#111" stroke="#111" stroke-width="1.6">
<text x="86" y="1612" font-size="76" textLength="725" lengthAdjust="spacingAndGlyphs">だからこそ、“実態”を</text>
<text x="86" y="1710" font-size="76">事実で可視化する</text>
<text x="86" y="1808" font-size="76">起点が必要です。</text>
<text x="86" y="1887" font-size="52" textLength="741" stroke-width="1">当社の設計はここを直撃します。</text>
</g>

<!-- bottom right illustration -->
<line x1="835" y1="1882" x2="1382" y2="1882" stroke="#8a9a96" stroke-width="2"/>
<rect x="899" y="1515" width="172" height="112" rx="6" fill="#fff" stroke="#1f2a2a" stroke-width="3"/>
<rect x="900.5" y="1516.5" width="169" height="14" rx="5" fill="#23897b"/>
<g fill="#fff"><circle cx="911" cy="1523" r="3"/><circle cx="921" cy="1523" r="3"/><circle cx="931" cy="1523" r="3"/></g>
<g stroke="#1f2a2a" stroke-width="2.5"><line x1="912" y1="1548" x2="958" y2="1548"/><line x1="912" y1="1556" x2="958" y2="1556"/><line x1="912" y1="1565" x2="940" y2="1565"/><polyline points="948,1613 1052,1613" fill="none"/>
<rect x="952" y="1598" width="12" height="15" fill="#5fa97f"/><rect x="975" y="1585" width="12" height="28" fill="#5fa97f"/><rect x="998" y="1590" width="12" height="23" fill="#23897b"/><rect x="1020" y="1578" width="12" height="35" fill="#23897b"/><rect x="1042" y="1562" width="12" height="51" fill="#23897b"/>
<polyline points="950,1590 985,1567 1000,1577 1045,1545" fill="none"/></g>
<rect x="856" y="1578" width="85" height="69" rx="8" fill="#23897b" stroke="#1f2a2a" stroke-width="3"/>
<polygon points="910,1645 922,1662 928,1645" fill="#23897b" stroke="#1f2a2a" stroke-width="2.5"/>
<text x="898" y="1624" font-size="30" fill="#fff" text-anchor="middle" font-weight="400">解決</text>
<g stroke="#1f2a2a" stroke-width="2.5" fill="none">
<circle cx="1218" cy="1528" r="4"/><circle cx="1218" cy="1544" r="4"/><circle cx="1218" cy="1560" r="4"/>
<line x1="1228" y1="1528" x2="1252" y2="1528"/><line x1="1228" y1="1544" x2="1252" y2="1544"/><line x1="1228" y1="1560" x2="1252" y2="1560"/>
<polyline points="1265,1525 1265,1600 1356,1600"/></g>
<g stroke="#1f2a2a" stroke-width="2"><rect x="1274" y="1570" width="12" height="28" fill="#b9c8c2"/><rect x="1294" y="1558" width="12" height="40" fill="#23897b"/><rect x="1314" y="1545" width="12" height="53" fill="#b9c8c2"/><rect x="1334" y="1532" width="12" height="66" fill="#23897b"/></g>
<rect x="1289" y="1613" width="65" height="34" rx="6" fill="#fff" stroke="#1f2a2a" stroke-width="2.5"/>
<polygon points="1300,1646 1298,1660 1312,1646" fill="#fff" stroke="#1f2a2a" stroke-width="2"/>
<g fill="#4a6f8a"><circle cx="1304" cy="1630" r="3"/><circle cx="1314" cy="1630" r="3"/><circle cx="1324" cy="1630" r="3"/><circle cx="1334" cy="1630" r="3"/></g>
<!-- compass -->
<circle cx="1136" cy="1527" r="20" fill="none" stroke="#1f2a2a" stroke-width="11"/>
<circle cx="1136" cy="1527" r="20" fill="none" stroke="#8b8e8f" stroke-width="7"/>
<rect x="1124" y="1545" width="24" height="20" fill="#8b8e8f" stroke="#1f2a2a" stroke-width="2.5"/>
<circle cx="1135" cy="1705" r="135" fill="#fff" stroke="#1f2a2a" stroke-width="3"/>
<circle cx="1135" cy="1705" r="122" fill="none" stroke="#23897b" stroke-width="22"/>
<circle cx="1135" cy="1705" r="111" fill="none" stroke="#1f2a2a" stroke-width="2"/>
<g font-size="26" fill="#1f2a2a" text-anchor="middle" font-weight="700">
<text x="1135" y="1623">N</text><text x="1135" y="1808">S</text><text x="1040" y="1714">W</text><text x="1232" y="1714">E</text></g>
<g stroke="#1f2a2a" stroke-width="3"><line x1="1085" y1="1618" x2="1090" y2="1628"/><line x1="1185" y1="1618" x2="1180" y2="1628"/><line x1="1048" y1="1655" x2="1058" y2="1660"/><line x1="1222" y1="1655" x2="1212" y2="1660"/><line x1="1048" y1="1755" x2="1058" y2="1750"/><line x1="1222" y1="1755" x2="1212" y2="1750"/><line x1="1085" y1="1792" x2="1090" y2="1782"/><line x1="1185" y1="1792" x2="1180" y2="1782"/></g>
<line x1="1180" y1="1765" x2="1245" y2="1838" stroke="#1f2a2a" stroke-width="26" stroke-linecap="round"/>
<line x1="1180" y1="1765" x2="1245" y2="1838" stroke="#6a7173" stroke-width="20" stroke-linecap="round"/>
<circle cx="1132" cy="1717" r="57" fill="#fbfdfc" stroke="#1f2a2a" stroke-width="17"/>
<circle cx="1132" cy="1717" r="57" fill="none" stroke="#23897b" stroke-width="12"/>
<g stroke="#1f2a2a" stroke-width="2">
<polygon points="1135,1640 1142,1700 1135,1780 1128,1700" fill="#9aa3a4"/>
<polygon points="1080,1700 1135,1694 1190,1700 1135,1706" fill="#9aa3a4"/>
<polygon points="1180,1638 1141,1712 1129,1698" fill="#d9695a"/>
<polygon points="1092,1770 1129,1698 1141,1712" fill="#1f8071"/>
<circle cx="1135" cy="1705" r="8" fill="#fff"/></g>
<!-- people bottom -->
<g stroke="#1f2a2a" stroke-width="2.5">
<ellipse cx="880" cy="1690" rx="21" ry="28" fill="#5a4638"/>
<path d="M858,1706 L902,1706 L912,1795 L850,1795 Z" fill="#23897b"/>
<rect x="857" y="1795" width="21" height="80" fill="#a59d91"/><rect x="880" y="1795" width="21" height="80" fill="#a59d91"/>
<rect x="888" y="1728" width="32" height="24" fill="#e3e5e4"/>
<ellipse cx="880" cy="1680" rx="15" ry="18" fill="#ecc5a2"/>
<path d="M928,1690 L976,1690 L986,1785 L920,1785 Z" fill="#4e5457"/>
<polygon points="944,1690 960,1690 952,1725" fill="#fff"/><line x1="952" y1="1694" x2="952" y2="1725" stroke="#23897b" stroke-width="5"/>
<rect x="930" y="1730" width="50" height="14" rx="6" fill="#4e5457"/>
<rect x="926" y="1785" width="25" height="90" fill="#5e6466"/><rect x="953" y="1785" width="25" height="90" fill="#5e6466"/>
<ellipse cx="951" cy="1667" rx="15" ry="19" fill="#e6c08a"/>
<path d="M936,1665 C934,1643 968,1643 966,1665 L962,1655 C952,1650 944,1652 940,1662 Z" fill="#3a2e25"/>
<ellipse cx="1020" cy="1690" rx="19" ry="25" fill="#8a6448"/>
<path d="M998,1706 L1042,1706 L1050,1790 L992,1790 Z" fill="#b7b7b3"/>
<rect x="998" y="1730" width="48" height="14" rx="6" fill="#b7b7b3"/>
<rect x="997" y="1790" width="22" height="85" fill="#3d5f86"/><rect x="1022" y="1790" width="22" height="85" fill="#3d5f86"/>
<ellipse cx="1020" cy="1684" rx="14" ry="18" fill="#ecc5a2"/>
<path d="M1256,1715 L1305,1715 L1312,1795 L1250,1795 Z" fill="#3c5f8d"/>
<polygon points="1272,1715 1288,1715 1280,1745" fill="#fff"/><line x1="1280" y1="1718" x2="1280" y2="1748" stroke="#b0403a" stroke-width="4"/>
<path d="M1258,1725 L1230,1740 L1215,1735" fill="none" stroke="#3c5f8d" stroke-width="9"/>
<rect x="1262" y="1738" width="26" height="34" fill="#fff"/>
<rect x="1255" y="1795" width="25" height="80" fill="#3c5f8d"/><rect x="1282" y="1795" width="25" height="80" fill="#3c5f8d"/>
<ellipse cx="1280" cy="1695" rx="15" ry="19" fill="#e3b894"/>
<path d="M1265,1692 C1263,1672 1297,1672 1295,1692 Z" fill="#6b4a36"/>
<path d="M1314,1712 L1362,1712 L1378,1790 L1370,1800 L1312,1800 Z" fill="#e3e3de"/>
<rect x="1316" y="1800" width="22" height="75" fill="#8ea0b0"/><rect x="1340" y="1800" width="22" height="75" fill="#8ea0b0"/>
<ellipse cx="1337" cy="1692" rx="16" ry="20" fill="#8a5a3c"/>
<path d="M1321,1688 C1320,1668 1355,1668 1353,1688 Z" fill="#2a1f18"/>
</g>
</svg>
</body></html>
